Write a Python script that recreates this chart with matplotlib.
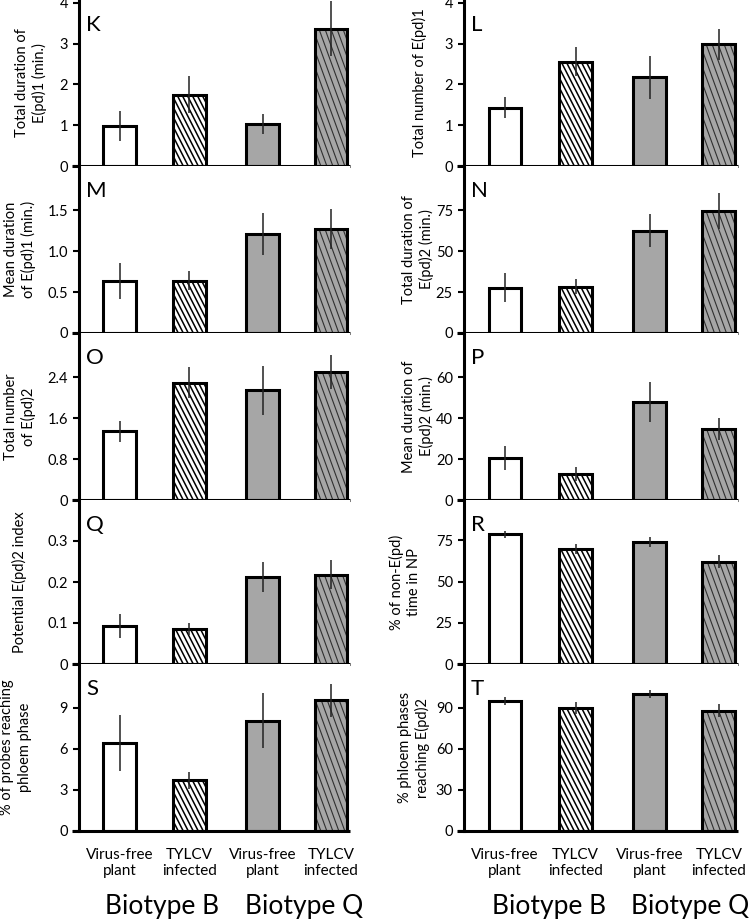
import numpy as np
import matplotlib
matplotlib.use("Agg")
import matplotlib.pyplot as plt
from matplotlib.collections import LineCollection

plt.rcParams['font.family'] = ['Lato', 'DejaVu Sans']

# treatments (x axis) and biotype groups
groups = ["Virus-free\nplant", "TYLCV\ninfected", "Virus-free\nplant", "TYLCV\ninfected"]
biotypes = ["Biotype B", "Biotype Q"]

# panel values (mean, SE)
k_mean = [0.98, 1.75, 1.03, 3.37]
k_err = [0.36, 0.45, 0.25, 0.68]
l_mean = [1.43, 2.56, 2.17, 2.98]
l_err = [0.25, 0.35, 0.52, 0.37]
m_mean = [0.63, 0.64, 1.21, 1.27]
m_err = [0.22, 0.12, 0.26, 0.24]
n_mean = [27.7, 28.3, 62.5, 74.5]
n_err = [9.0, 4.5, 10.0, 11.0]
o_mean = [1.34, 2.29, 2.14, 2.50]
o_err = [0.21, 0.30, 0.48, 0.33]
p_mean = [20.5, 12.7, 47.8, 34.6]
p_err = [6.0, 3.5, 9.7, 5.5]
q_mean = [0.093, 0.085, 0.213, 0.218]
q_err = [0.030, 0.014, 0.037, 0.035]
r_mean = [78.6, 70.0, 74.0, 62.0]
r_err = [2.0, 3.0, 3.0, 4.0]
s_mean = [6.4, 3.7, 8.05, 9.55]
s_err = [2.05, 0.6, 2.0, 1.2]
t_mean = [95.0, 90.0, 100.0, 88.0]
t_err = [3.0, 4.5, 3.0, 5.0]

# y tick values per panel
k_ticks = [0, 1, 2, 3, 4]
l_ticks = [0, 1, 2, 3, 4]
m_ticks = [0, 0.5, 1.0, 1.5]
n_ticks = [0, 25, 50, 75]
o_ticks = [0, 0.8, 1.6, 2.4]
p_ticks = [0, 20, 40, 60]
q_ticks = [0, 0.1, 0.2, 0.3]
r_ticks = [0, 25, 50, 75]
s_ticks = [0, 3, 6, 9]
t_ticks = [0, 30, 60, 90]
m_labels = ["0", "0.5", "1.0", "1.5"]
o_labels = ["0", "0.8", "1.6", "2.4"]
q_labels = ["0", "0.1", "0.2", "0.3"]

# (letter, ylabel, mean, err, ymax, ticks, ticklabels, column, row, label x px)
panels = [
    ("K", "Total duration of\nE(pd)1 (min.)", k_mean, k_err, 4.07, k_ticks, None, 0, 0, 31),
    ("M", "Mean duration\nof E(pd)1 (min.)", m_mean, m_err, 2.04, m_ticks, m_labels, 0, 1, 20),
    ("O", "Total number\nof E(pd)2", o_mean, o_err, 3.26, o_ticks, o_labels, 0, 2, 20),
    ("Q", "Potential E(pd)2 index", q_mean, q_err, 0.40, q_ticks, q_labels, 0, 3, 19),
    ("S", "% of probes reaching\nphloem phase", s_mean, s_err, 12.2, s_ticks, None, 0, 4, 16),
    ("L", "Total number of E(pd)1", l_mean, l_err, 4.07, l_ticks, None, 1, 0, 419),
    ("N", "Total duration of\nE(pd)2 (min.)", n_mean, n_err, 102, n_ticks, None, 1, 1, 418),
    ("P", "Mean duration of\nE(pd)2 (min.)", p_mean, p_err, 81.5, p_ticks, None, 1, 2, 418),
    ("R", "% of non-E(pd)\ntime in NP", r_mean, r_err, 99.5, r_ticks, None, 1, 3, 405),
    ("T", "% phloem phases\nreaching E(pd)2", t_mean, t_err, 122, t_ticks, None, 1, 4, 414),
]

W, H = 750, 921
col_x = [79, 464]
col_w = [271, 274]
row_top = [0, 166, 333, 500, 664]
row_zero = [166, 333, 500, 664, 831]
xpos = [0.6, 1.63, 2.71, 3.72]
bar_w = 0.478
faces = ["white", "white", "#a6a6a6", "#a6a6a6"]
# hatch: (angle deg, spacing px, colour, lw) or None
hatches = [None, (63, 5.0, "black", 1.1), None, (70, 6.0, "#303030", 0.8)]


def slant_lines(ax, patch, x0, w, h, angle, step, color, lw):
    bb = ax.get_window_extent()
    xl, xh = ax.get_xlim()
    yl, yh = ax.get_ylim()
    sx = bb.width / (xh - xl)
    sy = bb.height / (yh - yl)
    run = h * sy / np.tan(np.radians(angle))
    starts = np.arange(-run, w * sx + step, step)
    segs = [[(x0 + s / sx, h), (x0 + (s + run) / sx, 0)] for s in starts]
    lc = LineCollection(segs, colors=color, linewidths=lw, zorder=2)
    ax.add_collection(lc)
    lc.set_clip_path(patch)  # after add_collection, otherwise it gets the axes clip


fig = plt.figure(figsize=(W / 100, H / 100), dpi=100)

for letter, ylab, mean, err, ymax, ticks, tlabels, col, row, lab_x in panels:
    top = row_top[row]
    zero = row_zero[row]
    ax = fig.add_axes([col_x[col] / W, 1 - zero / H, col_w[col] / W, (zero - top) / H])
    ax.set_xlim(0, 4)
    ax.set_ylim(0, ymax)

    fills = ax.bar(xpos, mean, width=bar_w, color=faces, edgecolor="none", zorder=1)
    for i, rect in enumerate(fills):
        if hatches[i] is not None:
            ang, step, hc, hlw = hatches[i]
            slant_lines(ax, rect, rect.get_x(), rect.get_width(), rect.get_height(),
                        ang, step, hc, hlw)
    ax.bar(xpos, mean, width=bar_w, color="none", edgecolor="black", linewidth=2.2, zorder=3)
    ax.errorbar(xpos, mean, yerr=err, fmt="none", ecolor="#222222", elinewidth=1.1,
                capsize=0, zorder=4)

    for side in ["top", "right", "bottom"]:
        ax.spines[side].set_visible(False)
    ax.spines["left"].set_linewidth(2.2)
    ax.plot([-0.025, 1.0], [0, 0], color="black", linewidth=2.2,
            transform=ax.get_yaxis_transform(), clip_on=False, zorder=5,
            solid_capstyle="butt")

    if tlabels is None:
        ax.set_yticks(ticks)
    else:
        ax.set_yticks(ticks, tlabels)
    ax.tick_params(axis="y", direction="out", length=4, width=1.5, labelsize=10.5, pad=4)

    if row == 4:
        ax.set_xticks(xpos, groups)
        ax.tick_params(axis="x", length=0, labelsize=11, pad=12)
        for lab in ax.get_xticklabels():
            lab.set_linespacing(1.25)
    else:
        ax.set_xticks([])

    fig.text((col_x[col] + 7) / W, 1 - (top + 25) / H, letter, fontsize=16,
             ha="left", va="center")
    fig.text(lab_x / W, 1 - (top + zero) / 2 / H, ylab, rotation=90, fontsize=10.5,
             ha="center", va="center", multialignment="center", linespacing=1.3)

# biotype group labels
fig.text(162 / W, 1 - 906 / H, biotypes[0], fontsize=19, ha="center", va="center")
fig.text(304 / W, 1 - 906 / H, biotypes[1], fontsize=19, ha="center", va="center")
fig.text(549 / W, 1 - 906 / H, biotypes[0], fontsize=19, ha="center", va="center")
fig.text(690 / W, 1 - 906 / H, biotypes[1], fontsize=19, ha="center", va="center")

fig.savefig("out.png", dpi=100)
